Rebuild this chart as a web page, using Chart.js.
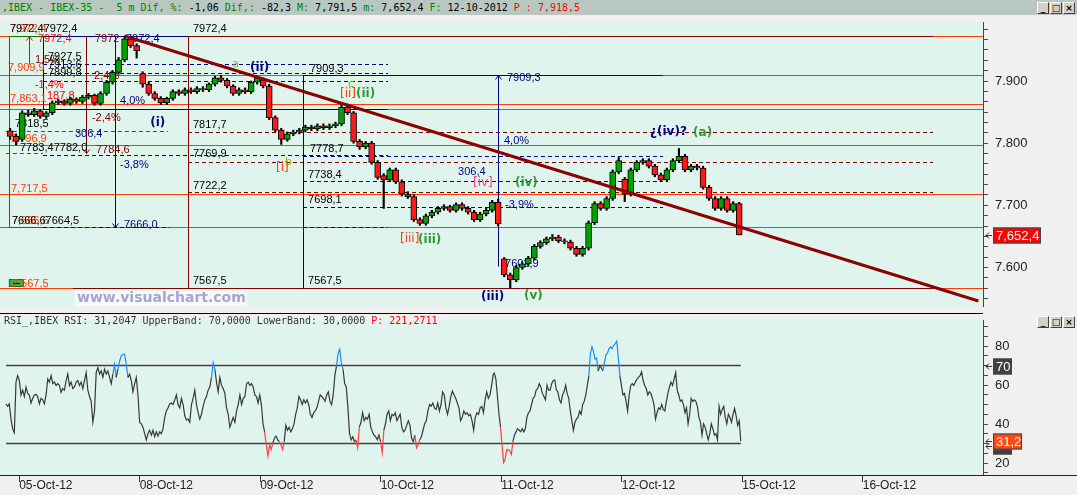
<!DOCTYPE html>
<html>
<head>
<meta charset="utf-8">
<title>IBEX-35 5 m</title>
<script src="https://cdn.jsdelivr.net/npm/chart.js@4.4.1/dist/chart.umd.min.js"></script>
<style>
  body { margin:0; width:1077px; height:495px; overflow:hidden; background:#f0f0f0; position:relative; }
  canvas { position:absolute; left:0; }
  #precio { top:15px; }
  #rsi { top:313px; }
  .txt { position:absolute; font-family:"DejaVu Sans Mono", monospace; font-size:10px; white-space:pre; }
  #titulo { left:0; top:0; width:1077px; height:15px; line-height:15px; background:#b8c8c0; padding-left:2px; box-sizing:border-box; color:#000; }
  #rsiTitulo { left:4px; top:315px; line-height:12px; color:#333; }
  .verde { color:#008000; }
  .rojo { color:#ff0000; }
  .btns { position:absolute; left:1037px; display:flex; gap:1px; }
  .btns span { width:10px; height:10px; background:#d4d0c8; border:1px solid; border-color:#fff #404040 #404040 #fff;
               font:bold 9px/10px "DejaVu Sans", sans-serif; text-align:center; color:#000; }
</style>
</head>
<body>
<canvas id="precio" width="1077" height="298"></canvas>
<canvas id="rsi" width="1077" height="182"></canvas>
<div id="titulo" class="txt"><span class="verde">,IBEX - IBEX-35 -  5 m Dif, %:</span> -1,06 <span class="verde">Dif,:</span> -82,3 <span class="verde">M:</span> 7,791,5 <span class="verde">m:</span> 7,652,4 <span class="verde">F:</span> 12-10-2012 <span class="rojo">P : 7,918,5</span></div>
<div class="btns" style="top:2px"><span>_</span><span>□</span><span>×</span></div>
<div id="rsiTitulo" class="txt">RSI_,IBEX RSI: 31,2047 UpperBand: 70,0000 LowerBand: 30,0000 <span class="rojo">P: 221,2711</span></div>
<div class="btns" style="top:316px"><span>_</span><span>□</span><span>×</span></div>
<script>
// sesiones del eje x
const dayLabels = ['05-Oct-12', '08-Oct-12', '09-Oct-12', '10-Oct-12', '11-Oct-12', '12-Oct-12', '15-Oct-12', '16-Oct-12'];

// velas (20 por sesión)
const opens = [7820,7811,7806,7849,7846,7852,7843,7849,7865,7868,
  7864,7871,7867,7874,7877,7864,7880,7898,7914,7934,
  7968,7957,7912,7895,7880,7872,7865,7872,7883,7880,
  7886,7883,7888,7886,7895,7905,7901,7892,7880,7886,
  7883,7898,7902,7892,7841,7821,7806,7815,7818,7821,
  7826,7823,7828,7825,7828,7831,7858,7849,7803,7794,
  7800,7769,7748,7741,7757,7738,7718,7714,7677,7671,
  7683,7689,7695,7698,7692,7701,7695,7689,7677,7686,
  7692,7705,7614,7588,7580,7600,7606,7615,7634,7640,
  7646,7649,7643,7641,7631,7621,7631,7672,7703,7695,
  7711,7754,7742,7718,7757,7769,7772,7763,7749,7741,
  7757,7772,7779,7757,7763,7760,7729,7711,7695,7711,
  7692,7703];
const highs = [7824,7815,7852,7853,7856,7854,7851,7868,7871,7870,
  7874,7873,7877,7880,7879,7883,7901,7917,7938,7972.4,
  7970,7960,7915,7898,7883,7875,7874,7886,7886,7889,
  7889,7891,7891,7897,7908,7909.3,7904,7894,7889,7889,
  7900,7908,7905,7895,7844,7824,7818,7821,7824,7829,
  7829,7831,7831,7831,7834,7862,7863,7851,7806,7803,
  7803,7772,7751,7760,7760,7741,7722,7717,7680,7686,
  7692,7698,7701,7700,7704,7704,7698,7692,7689,7695,
  7708,7710,7616,7591,7603,7609,7618,7637,7643,7649,
  7653,7652,7646,7644,7634,7634,7675,7706,7706,7714,
  7757,7777,7745,7760,7772,7775,7775,7766,7752,7760,
  7775,7791.5,7782,7766,7766,7763,7732,7714,7714,7714,
  7706,7705];
const lows = [7806,7797,7803,7843,7843,7840,7840,7846,7862,7861,
  7861,7864,7864,7871,7861,7861,7877,7895,7911,7931,
  7954,7937,7890,7877,7869,7862,7862,7869,7877,7877,
  7880,7880,7883,7883,7892,7898,7889,7877,7877,7880,
  7880,7895,7889,7838,7818,7798,7803,7812,7815,7818,
  7820,7820,7822,7822,7825,7828,7846,7800,7790,7791,
  7766,7742,7695,7738,7735,7715,7711,7674,7667.7,7668,
  7680,7686,7692,7689,7689,7692,7686,7674,7674,7683,
  7689,7667,7585,7567.5,7577,7597,7603,7612,7631,7637,
  7643,7640,7638,7628,7618,7618,7628,7669,7692,7692,
  7708,7751,7706,7715,7754,7766,7760,7746,7738,7738,
  7754,7769,7754,7754,7757,7726,7708,7692,7692,7689,
  7689,7652.4];
const closes = [7811,7803,7849,7846,7852,7843,7849,7865,7868,7864,
  7871,7867,7874,7877,7864,7880,7898,7914,7934,7968,
  7957,7949,7895,7880,7872,7865,7872,7883,7880,7886,
  7883,7888,7886,7895,7905,7901,7892,7880,7886,7883,
  7898,7905,7892,7841,7821,7806,7815,7818,7821,7826,
  7823,7828,7825,7828,7831,7858,7849,7803,7794,7800,
  7769,7745,7741,7757,7738,7718,7714,7677,7671,7683,
  7689,7695,7698,7692,7701,7695,7689,7677,7686,7692,
  7705,7670,7588,7580,7600,7606,7615,7634,7640,7646,
  7649,7643,7641,7631,7621,7631,7672,7703,7695,7711,
  7754,7772,7718,7757,7769,7772,7763,7749,7741,7757,
  7772,7779,7757,7763,7760,7729,7711,7695,7711,7692,
  7703,7652.4];

// línea de tendencia (sesión, precio)
const trendDays = [0.875, 7.96];
const trendPrices = [7972.4, 7546];

// RSI en tres tramos
const rsiPart1 = [50.3,49.1,50.3,42.5,37.6,35.5,61.5,64.8,62.3,54.9,
  57.4,54.1,59.0,55.7,54.9,50.8,53.2,54.9,55.2,54.1,
  50.3,53.2,52.4,50.3,54.9,63.1,61.5,64.8,60.7,61.5,
  59.8,60.7,59.8,56.2,58.2,57.4,62.3,65.6,59.8,61.5,
  58.2,59.0,61.5,62.3,59.8,61.5,58.2,62.3,66.4,57.4,
  54.1,51.6,40.9,46.7,66.4,68.9,65.6,67.2,63.9,68.1,
  65.6,67.2,63.9,60.7,65.6,70.5,63.9,68.1,72.2,75.0,
  75.8,75.8,70.5,63.9,65.6,62.3,56.5,60.7,63.9,54.9,
  40.9,40.1,38.4,35.1,31.9,35.1,36.8,34.3,36.8,33.5,
  36.0,33.8,36.0,35.1,37.6,43.4,46.7,48.3,50.3,50.8,
  50.0,52.4,54.9,50.0,48.3,53.2,50.0,44.2,42.1,42.5,
  40.9,50.0,53.2,57.4,50.0,45.8,42.5,45.0,49.1,52.4,
  54.1,57.4,59.0,63.9,71.4,68.1,61.5,56.5,63.9,59.8,
  58.2,55.7,48.3,45.0,38.4,40.9,43.4,40.9,46.7,50.0,
  54.9,50.0,53.2,54.1,60.7,61.5];
const rsiPart2 = [59.8,60.7,59.0,54.9,54.1,50.8,54.9,50.0,40.1,36.0,
  29.4,23.6,29.4,26.9,30.2,32.7,33.8,31.9,31.0,29.4,
  26.9,31.0,39.3,36.8,38.4,36.0,37.6,40.1,45.0,48.3,
  54.1,52.4,50.0,52.4,50.8,52.4,50.0,45.0,43.4,45.8,
  46.7,48.3,51.6,54.9,54.1,53.2,51.6,54.9,56.5,51.6,
  50.0,54.9,64.8,69.7,76.3,78.4,71.4,68.1,60.7,59.0,
  48.3,35.1,31.9,33.5,31.0,31.9,27.7,38.4,40.9,45.8,
  41.7,43.4,42.5,45.0,38.4,36.0,34.3,33.5,31.9,34.3,
  31.0,25.3,36.8,40.1,45.0,46.7,41.7,45.0,44.2,45.8,
  41.7,43.4,45.0,38.4,36.0,36.8,39.3,41.7,39.3,32.7,
  31.0,34.3,27.7,29.4,31.9,33.5,36.8,40.1,41.7,46.7,
  50.0,49.1,50.8,48.3,47.5,50.8,46.7,50.0,56.5,54.9,
  48.3,45.0,49.1,54.1,56.9,54.9,53.2,50.8,48.3,41.7,
  43.4,46.7,45.0,45.8,44.2,45.0,41.7,36.8,43.4,45.8,
  45.0,48.3,49.1,45.8,52.4,56.5,53.2,54.9,59.8,65.6];
const rsiPart3 = [66.1,63.1,54.1,45.0,38.4,28.6,20.3,22.0,26.9,26.9,
  26.1,24.4,31.0,34.3,36.0,37.6,36.8,36.0,37.6,36.0,
  37.6,43.4,45.8,46.7,50.0,53.2,54.1,57.4,58.2,60.7,
  59.0,55.7,54.1,52.4,59.8,57.4,57.4,60.7,62.3,62.6,
  57.4,56.5,52.4,50.8,54.9,56.5,59.8,55.7,53.2,46.7,
  41.7,36.8,40.9,42.5,43.4,46.7,45.0,50.0,51.6,54.9,
  59.8,64.8,76.3,79.6,77.1,73.3,73.8,67.2,69.7,68.9,
  67.2,71.4,75.5,76.3,78.7,79.6,78.7,80.4,81.2,82.5,
  73.8,64.8,59.8,54.9,55.7,51.6,46.7,54.9,59.8,60.7,
  59.8,61.5,63.1,63.9,64.8,66.7,62.3,59.8,58.2,54.9,
  56.5,55.7,53.2,50.0,42.5,45.8,48.3,47.5,50.0,47.5,
  46.7,51.6,55.7,59.0,61.5,59.8,63.1,66.4,57.4,54.9,
  51.6,52.4,50.0,45.8,48.3,40.1,45.0,53.2,51.6,52.4,
  51.6,49.1,43.4,40.9,34.3,40.1,38.4,35.1,31.9,35.1,
  40.1,37.6,34.3,35.1,31.9,49.1,45.0,47.5,49.1,43.4,
  40.1,45.0,43.4,40.9,45.0,48.0,44.2,39.3,41.7,31.2047];
const rsiSpans = [[-0.1095, 1.901], [1.915, 3.934], [3.943, 5.988]];
const rsiBands = [70, 30];

// escalas
const priceTickValues = [7600, 7700, 7800, 7900];
const priceTickLabels = ['7.600', '7.700', '7.800', '7.900'];
const rsiTickValues = [20, 40, 60, 80];

// colores
const NAVY = '#000080', DARKRED = '#800000', ORANGE = '#ff3c00', GREEN = '#008000', RED = '#ff0000';
const LIME = '#90c000', WGREEN = '#2f9a2f', PINK = '#ff3c80', MINT = '#e0f4ee';

// niveles naranjas a todo el ancho
const fullLevels = [7972.4, 7909.3, 7863.5, 7855.4, 7796.9, 7717.5, 7665.6, 7567.5];
// [precio, desde, hasta, color]
const solidSegments = [
  [7972.4, -0.085, 0.198, GREEN],
  [7972.4, 0.198, 1.401, NAVY],
  [7972.4, 1.401, 7.584, DARKRED],
  [7909.3, 2.355, 5.343, NAVY],
  [7855.4, 0.198, 3.061, NAVY],
  [7567.5, 0.446, 7.584, DARKRED],
  [7665.6, -0.085, 0.198, GREEN]
];
const dashedSegments = [
  [7927.5, 0.198, 3.061, NAVY],
  [7913.6, 0.198, 3.061, NAVY],
  [7899.8, 0.198, 3.061, NAVY],
  [7781.1, 0.198, 3.061, NAVY],
  [7664.5, 0.198, 1.251, NAVY],
  [7664.5, 2.355, 3.061, NAVY],
  [7778.7, 2.355, 5.343, NAVY],
  [7738.4, 2.355, 5.343, NAVY],
  [7698.1, 2.355, 5.343, NAVY],
  [7817.7, 1.401, 7.584, DARKRED],
  [7769.9, 1.401, 7.584, DARKRED],
  [7722.2, 1.401, 7.584, DARKRED],
  [7820.0, -0.11, 1.236, GREEN],
  [7783.4, -0.11, 0.198, GREEN]
];
// [sesión, precio1, precio2, color]
const verticalSegments = [
  [1.401, 7972.4, 7567.5, DARKRED],
  [2.355, 7909.3, 7567.5, NAVY],
  [3.973, 7909.3, 7602.9, NAVY],
  [0.795, 7972.4, 7665.6, NAVY],
  [0.554, 7972.4, 7784.6, DARKRED],
  [-0.085, 7972.4, 7665.6, GREEN],
  [0.198, 7972.4, 7855.4, NAVY],
  [0.081, 7972.4, 7927.5, RED]
];
const arrowMarks = [
  [3.973, 7909.3, 'up', NAVY],
  [0.795, 7665.6, 'down', NAVY],
  [0.554, 7784.6, 'down', DARKRED],
  [0.081, 7972.4, 'up', RED]
];
// [texto, sesión, precio, color, fuente]
const textLabels = [
  ['7,972,4', -0.076, 7984.2, ORANGE, 's'],
  ['7972,47972,4', -0.076, 7984.2, '#000', 's'],
  ['7972,4', 0.156, 7967.2, RED, 's'],
  ['7972', 0.629, 7967.2, DARKRED, 's'],
  ['7972,4', 0.886, 7967.2, NAVY, 's'],
  ['7972,4', 1.442, 7984.2, '#000', 's'],
  ['1,5%', 0.131, 7933.4, DARKRED, 's'],
  ['7,909,9', -0.093, 7921, ORANGE, 's'],
  ['7927,5', 0.239, 7938, '#000', 's'],
  ['7913,6', 0.239, 7925.7, '#000', 's'],
  ['7899,8', 0.239, 7913.4, '#000', 's'],
  ['2,4%', 0.622, 7908.8, DARKRED, 's'],
  ['-1,4%', 0.131, 7893.4, RED, 's'],
  ['7,863,1', -0.076, 7871.8, ORANGE, 's'],
  ['187,8', 0.231, 7876.5, RED, 's'],
  ['4,0%', 0.837, 7867.2, NAVY, 's'],
  ['-2,4%', 0.604, 7841.1, DARKRED, 's'],
  ['7818,5', -0.035, 7830.3, '#000', 's'],
  ['306,4', 0.463, 7814.9, NAVY, 's'],
  ['7,796,9', -0.076, 7807.2, ORANGE, 's'],
  ['7783,47782,0', 0.007, 7791.8, '#000', 's'],
  ['7784,6', 0.637, 7788.8, DARKRED, 's'],
  ['-3,8%', 0.837, 7764.2, NAVY, 's'],
  ['7,717,5', -0.068, 7725.7, ORANGE, 's'],
  ['7,665,6', -0.06, 7675, ORANGE, 's'],
  ['7666,67664,5', -0.06, 7675, '#000', 's'],
  ['7666,0', 0.870, 7668.8, NAVY, 's'],
  ['7,567,5', -0.06, 7573, ORANGE, 's'],
  ['7909,3', 2.413, 7919.5, '#000', 's'],
  ['7817,7', 1.442, 7828.8, '#000', 's'],
  ['7769,9', 1.442, 7782.6, '#000', 's'],
  ['7722,2', 1.442, 7731.8, '#000', 's'],
  ['7567,5', 1.442, 7578, '#000', 's'],
  ['7778,7', 2.413, 7790.3, '#000', 's'],
  ['7738,4', 2.397, 7748.8, '#000', 's'],
  ['7698,1', 2.397, 7708.8, '#000', 's'],
  ['7567,5', 2.397, 7578, '#000', 's'],
  ['7909,3', 4.048, 7905.7, NAVY, 's'],
  ['4,0%', 4.023, 7804.2, NAVY, 's'],
  ['306,4', 3.642, 7753.4, NAVY, 's'],
  ['-3,9%', 4.032, 7701.1, NAVY, 's'],
  ['7602,9', 4.032, 7605.7, NAVY, 's'],
  ['(i)', 1.087, 7833.4, NAVY, 'b'],
  ['(ii)', 1.915, 7921, NAVY, 'b'],
  ['a', 1.768, 7927.2, LIME, 't'],
  ['c', 2.729, 7894.9, LIME, 't'],
  ['[ii]', 2.662, 7879.5, ORANGE, 'w'],
  ['(ii)', 2.795, 7879.5, WGREEN, 'b'],
  ['b', 2.206, 7770, LIME, 't'],
  ['[i]', 2.131, 7761, ORANGE, 'w'],
  ['[iv]', 3.766, 7736.4, PINK, 'w'],
  ['(iv)', 4.114, 7736.4, WGREEN, 'b'],
  ['[iii]', 3.16, 7645.8, ORANGE, 'w'],
  ['(iii)', 3.31, 7644.2, WGREEN, 'b'],
  ['(iii)', 3.832, 7552, NAVY, 'b'],
  ['(v)', 4.189, 7553.5, WGREEN, 'b'],
  ['¿(iv)?', 5.235, 7818, NAVY, 'b'],
  ['(a)', 5.592, 7816.5, WGREEN, 'b']
];
const FONTS = {
  s: '11px "Liberation Sans", Arial, sans-serif',
  t: '11px "DejaVu Sans", sans-serif',
  w: '12px "DejaVu Sans", sans-serif',
  b: 'bold 12px "DejaVu Sans", sans-serif'
};
const SANS = "'Liberation Sans', Arial, sans-serif";

const candleDay = i => (i - 1.5) / 20;
const fmtEs = v => {
  const [e, d] = v.toFixed(1).split('.');
  return e.replace(/\B(?=(\d{3})+(?!\d))/g, ',') + ',' + d;
};

function fondo(chart) {
  const { ctx, chartArea: a } = chart;
  ctx.save();
  ctx.fillStyle = MINT;
  ctx.fillRect(a.left, a.top, a.right - a.left, a.bottom - a.top);
  ctx.restore();
}

function cajaValor(ctx, yy, texto, fondoCol, ancho) {
  ctx.save();
  ctx.strokeStyle = '#333';
  ctx.lineWidth = 1;
  ctx.beginPath();
  ctx.moveTo(992, yy); ctx.lineTo(986, yy);
  ctx.moveTo(989, yy - 3); ctx.lineTo(986, yy); ctx.lineTo(989, yy + 3);
  ctx.stroke();
  ctx.fillStyle = fondoCol;
  ctx.fillRect(993, yy - 8, ancho, 16);
  ctx.strokeStyle = '#444';
  ctx.strokeRect(993.5, yy - 7.5, ancho - 1, 15);
  ctx.fillStyle = '#fff';
  ctx.font = '13px ' + SANS;
  ctx.textBaseline = 'middle';
  ctx.fillText(texto, 996, yy + 1);
  ctx.restore();
}

// líneas, textos y marca de agua detrás de las velas
const anotaciones = {
  id: 'anotaciones',
  beforeDraw: fondo,
  beforeDatasetsDraw(chart) {
    const { ctx, chartArea: a, scales: { x, y } } = chart;
    const X = d => x.getPixelForValue(d);
    const Y = p => Math.round(y.getPixelForValue(p)) + 0.5;
    const linea = (x1, y1, x2, y2, col, dash) => {
      ctx.strokeStyle = col;
      ctx.setLineDash(dash || []);
      ctx.beginPath(); ctx.moveTo(x1, y1); ctx.lineTo(x2, y2); ctx.stroke();
    };
    ctx.save();
    ctx.beginPath(); ctx.rect(a.left, a.top, a.right - a.left, a.bottom - a.top); ctx.clip();
    ctx.lineWidth = 1;
    fullLevels.forEach(p => linea(a.left, Y(p), a.right, Y(p), ORANGE));
    solidSegments.forEach(([p, d1, d2, c]) => linea(X(d1), Y(p), X(d2), Y(p), c));
    dashedSegments.forEach(([p, d1, d2, c]) => linea(X(d1), Y(p), X(d2), Y(p), c, [4, 3]));
    ctx.setLineDash([]);
    verticalSegments.forEach(([d, p1, p2, c]) => {
      const xx = Math.round(X(d)) + 0.5;
      linea(xx, Y(p1), xx, Y(p2), c);
    });
    arrowMarks.forEach(([d, p, dir, c]) => {
      const xx = Math.round(X(d)) + 0.5, yy = Y(p), s = dir === 'up' ? 1 : -1;
      linea(xx - 3, yy + 4 * s, xx, yy, c);
      linea(xx + 3, yy + 4 * s, xx, yy, c);
    });
    // marca de agua (coordenadas del lienzo)
    ctx.fillStyle = '#f6faf9';
    ctx.fillRect(75, 276, 172, 15);
    ctx.fillStyle = '#a4a6d2';
    ctx.font = 'bold 14px "DejaVu Sans", sans-serif';
    ctx.textBaseline = 'middle';
    ctx.fillText('www.visualchart.com', 77, 283);
    // icono verde
    ctx.fillStyle = '#3cb043';
    ctx.fillRect(X(-0.085), Y(7581), 14, 7);
    ctx.strokeStyle = '#1d6b22';
    ctx.strokeRect(X(-0.085) + 0.5, Y(7581), 14, 7);
    linea(X(-0.085) + 4, Y(7575.5), X(-0.085) + 11, Y(7575.5), '#000');
    // textos
    textLabels.forEach(([t, d, p, c, f]) => {
      ctx.font = FONTS[f];
      ctx.fillStyle = c;
      ctx.fillText(t, X(d), y.getPixelForValue(p));
    });
    ctx.restore();
  },
  afterDraw(chart) {
    const y = chart.scales.y;
    const last = closes[closes.length - 1];
    cajaValor(chart.ctx, Math.round(y.getPixelForValue(last)) + 0.5, fmtEs(last), '#ff0000', 48);
  }
};

const rsiPlugin = {
  id: 'rsiExtras',
  beforeDraw: fondo,
  afterDraw(chart) {
    const { ctx, chartArea: a, scales: { y } } = chart;
    ctx.save();
    ctx.fillStyle = '#000';
    ctx.fillRect(0, 0, a.right, 1);
    ctx.fillStyle = '#222';
    ctx.fillRect(a.right, a.bottom, chart.width - a.right, 1);
    ctx.restore();
    cajaValor(ctx, Math.round(y.getPixelForValue(rsiBands[0])) + 0.5, '70', '#404040', 19);
    cajaValor(ctx, Math.round(y.getPixelForValue(rsiBands[1])) + 2.5, '', '#404040', 19);
    const lastRsi = rsiPart3[rsiPart3.length - 1];
    cajaValor(ctx, Math.round(y.getPixelForValue(lastRsi)) + 0.5, lastRsi.toFixed(1).replace('.', ','), '#ff4a12', 29);
  }
};

// gráfico de precios
const bodyData = opens.map((o, i) => ({ x: candleDay(i), y: [o, closes[i]] }));
const wickData = lows.map((l, i) => ({ x: candleDay(i), y: [l, highs[i]] }));

new Chart(document.getElementById('precio'), {
  type: 'bar',
  data: {
    datasets: [{
      type: 'line',
      data: trendDays.map((d, i) => ({ x: d, y: trendPrices[i] })),
      borderColor: '#8b0000',
      borderWidth: 3,
      pointRadius: 0,
      order: 0
    }, {
      data: bodyData,
      backgroundColor: opens.map((o, i) => closes[i] >= o ? '#00a000' : '#ff1a1a'),
      borderColor: '#000',
      borderWidth: 1,
      borderSkipped: false,
      barThickness: 6,
      grouped: false,
      order: 1
    }, {
      data: wickData,
      backgroundColor: '#000',
      borderWidth: 0,
      barThickness: 1.5,
      grouped: false,
      order: 2
    }]
  },
  options: {
    responsive: false,
    animation: false,
    devicePixelRatio: 1,
    layout: { padding: { top: 0, bottom: 1, left: 0, right: 0 } },
    plugins: { legend: { display: false }, tooltip: { enabled: false } },
    scales: {
      x: { type: 'linear', min: -0.159, max: 7.998, offset: false, display: false },
      y: {
        type: 'linear',
        position: 'right',
        min: 7538,
        max: 7995,
        afterBuildTicks: s => {
          const t = [];
          for (let k = -3; k <= 23; k++) {
            const v = 7600 + k * 100 / 6;
            if (v > s.min && v < s.max) t.push({ value: v });
          }
          s.ticks = t;
        },
        afterFit: s => { s.width = 94; },
        ticks: {
          padding: 7,
          color: '#222',
          font: { family: SANS, size: 13, lineHeight: 0 },
          callback: v => {
            const k = priceTickValues.findIndex(p => Math.abs(p - v) < 0.01);
            return k >= 0 ? priceTickLabels[k] : '';
          }
        },
        grid: { drawOnChartArea: false, tickLength: 5, color: '#444' },
        border: { color: '#444' }
      }
    }
  },
  plugins: [anotaciones]
});

// gráfico RSI
const rsiPoints = [];
[rsiPart1, rsiPart2, rsiPart3].forEach((part, k) => {
  const [d0, d1] = rsiSpans[k];
  part.forEach((v, i) => rsiPoints.push({ x: d0 + (d1 - d0) * i / (part.length - 1), y: v }));
});

new Chart(document.getElementById('rsi'), {
  type: 'line',
  data: {
    datasets: [{
      data: rsiPoints,
      borderColor: '#383838',
      borderWidth: 1.2,
      pointRadius: 0,
      tension: 0,
      order: 0,
      segment: {
        borderColor: c => {
          const a = c.p0.parsed.y, b = c.p1.parsed.y;
          if (a > rsiBands[0] || b > rsiBands[0]) return '#1a8cff';
          if (a < rsiBands[1] || b < rsiBands[1]) return '#ff4040';
          return '#383838';
        }
      }
    }].concat(rsiBands.map(v => ({
      data: [{ x: rsiSpans[0][0], y: v }, { x: rsiSpans[2][1], y: v }],
      borderColor: '#404040',
      borderWidth: 1.5,
      pointRadius: 0,
      order: 1
    })))
  },
  options: {
    responsive: false,
    animation: false,
    devicePixelRatio: 1,
    layout: { padding: { top: 1, bottom: 0, left: 0, right: 0 } },
    plugins: { legend: { display: false }, tooltip: { enabled: false } },
    scales: {
      x: {
        type: 'linear',
        min: -0.159,
        max: 7.998,
        afterBuildTicks: s => { s.ticks = dayLabels.map((_, i) => ({ value: i })); },
        afterFit: s => { s.height = 20; },
        ticks: {
          align: 'start',
          autoSkip: false,
          maxRotation: 0,
          padding: -4,
          color: '#222',
          font: { family: SANS, size: 12 },
          callback: v => dayLabels[v] ?? ''
        },
        grid: { drawOnChartArea: false, tickLength: 7, color: '#333' },
        border: { color: '#222' }
      },
      y: {
        type: 'linear',
        position: 'right',
        min: 13.85,
        max: 93.36,
        afterBuildTicks: s => {
          const t = [];
          for (let v = 15; v <= 90; v += 5) t.push({ value: v });
          s.ticks = t;
        },
        afterFit: s => { s.width = 94; },
        ticks: {
          padding: 7,
          color: '#222',
          font: { family: SANS, size: 13, lineHeight: 0 },
          callback: v => rsiTickValues.includes(v) ? String(v) : ''
        },
        grid: { drawOnChartArea: false, tickLength: 5, color: '#444' },
        border: { color: '#444' }
      }
    }
  },
  plugins: [rsiPlugin]
});
</script>
</body>
</html>
